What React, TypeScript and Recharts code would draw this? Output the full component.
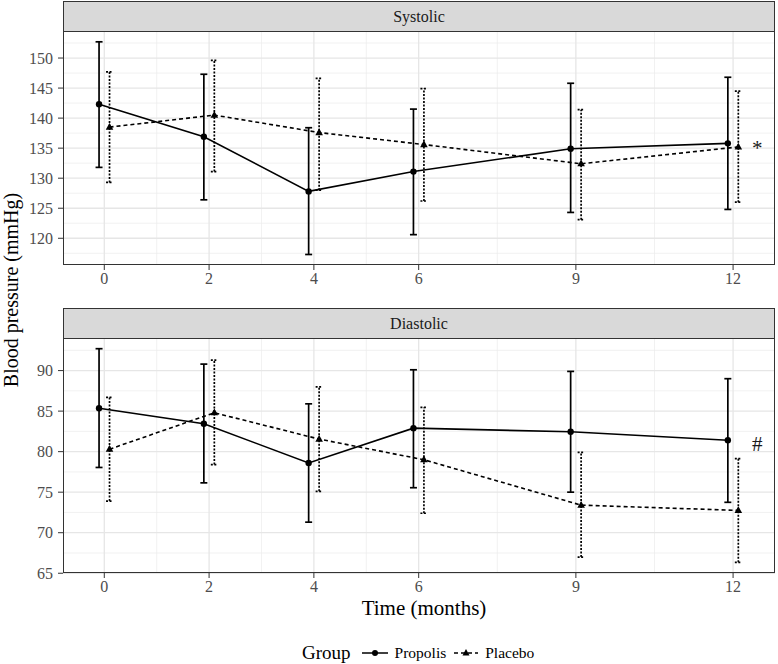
import {
  ComposedChart,
  Scatter,
  ErrorBar,
  XAxis,
  YAxis,
  CartesianGrid,
  ReferenceDot,
} from "recharts";

// months of follow-up
const MONTHS = [0, 2, 4, 6, 9, 12];
const X_TICKS = [0, 2, 4, 6, 9, 12];
const X_MINOR = [1, 3, 5, 7.5, 10.5];

// Systolic (mmHg): mean, lower and upper bounds of the bars
const SYS_PROPOLIS = [142.3, 136.9, 127.8, 131.1, 134.9, 135.8];
const SYS_PROPOLIS_LO = [131.8, 126.4, 117.3, 120.6, 124.3, 124.8];
const SYS_PROPOLIS_HI = [152.7, 147.3, 138.4, 141.5, 145.8, 146.8];
const SYS_PLACEBO = [138.5, 140.5, 137.6, 135.6, 132.4, 135.2];
const SYS_PLACEBO_LO = [129.3, 131.1, 128.0, 126.2, 123.1, 126.0];
const SYS_PLACEBO_HI = [147.7, 149.6, 146.6, 144.9, 141.4, 144.5];

// Diastolic (mmHg)
const DIA_PROPOLIS = [85.35, 83.45, 78.6, 82.9, 82.45, 81.4];
const DIA_PROPOLIS_LO = [78.05, 76.15, 71.3, 75.55, 75.0, 73.75];
const DIA_PROPOLIS_HI = [92.7, 90.8, 85.9, 90.1, 89.9, 89.0];
const DIA_PLACEBO = [80.3, 84.8, 81.55, 79.0, 73.4, 72.75];
const DIA_PLACEBO_LO = [73.9, 78.4, 75.1, 72.4, 67.0, 66.35];
const DIA_PLACEBO_HI = [86.7, 91.3, 88.0, 85.45, 79.9, 79.15];

const SYS_TICKS = [120, 125, 130, 135, 140, 145, 150];
const SYS_MINOR = [117.5, 122.5, 127.5, 132.5, 137.5, 142.5, 147.5, 152.5];
const DIA_TICKS = [65, 70, 75, 80, 85, 90];
const DIA_MINOR = [67.5, 72.5, 77.5, 82.5, 87.5, 92.5];

const SYS_NOTE = { x: 12.46, y: 135.1, text: "*" };
const DIA_NOTE = { x: 12.46, y: 81.0, text: "#" };

const DODGE = 0.1;
const X_DOMAIN: [number, number] = [-0.788, 12.8];

const SERIF = "'Liberation Serif', 'Times New Roman', serif";

const toPoints = (mean: number[], lo: number[], hi: number[], shift: number) =>
  MONTHS.map((m, i) => ({
    x: m + shift,
    y: mean[i],
    err: [mean[i] - lo[i], hi[i] - mean[i]],
  }));

const Dot = (p: any) => <circle cx={p.cx} cy={p.cy} r={3.2} fill="#000" />;
const Tri = (p: any) => (
  <polygon
    points={`${p.cx},${p.cy - 4.2} ${p.cx - 3.8},${p.cy + 2.6} ${p.cx + 3.8},${p.cy + 2.6}`}
    fill="#000"
  />
);

interface PanelProps {
  top: number;
  title: string;
  domain: [number, number];
  ticks: number[];
  minor: number[];
  propolis: { x: number; y: number; err: number[] }[];
  placebo: { x: number; y: number; err: number[] }[];
  note: { x: number; y: number; text: string };
  plotHeight: number;
}

const Panel = ({ top, title, domain, ticks, minor, propolis, placebo, note, plotHeight }: PanelProps) => {
  const tickStyle = { fill: "#4d4d4d", fontSize: 16, fontFamily: SERIF };
  return (
    <>
      <div
        style={{
          position: "absolute",
          left: 63,
          top: top - 30,
          width: 712,
          height: 31,
          boxSizing: "border-box",
          background: "#d9d9d9",
          border: "1px solid #333",
          fontFamily: SERIF,
          fontSize: 16,
          color: "#1a1a1a",
          display: "flex",
          alignItems: "center",
          justifyContent: "center",
        }}
      >
        {title}
      </div>
      <div style={{ position: "absolute", left: 0, top }}>
        <ComposedChart
          width={778}
          height={plotHeight + 32}
          margin={{ top: 0, right: 3, bottom: 0, left: 0 }}
        >
          <CartesianGrid
            horizontalValues={minor}
            verticalValues={X_MINOR}
            stroke="#ebebeb"
            strokeWidth={0.7}
          />
          <CartesianGrid
            horizontalValues={ticks}
            verticalValues={X_TICKS}
            stroke="#e6e6e6"
            strokeWidth={1.3}
          />
          <XAxis
            type="number"
            dataKey="x"
            domain={X_DOMAIN}
            ticks={X_TICKS}
            allowDataOverflow
            height={32}
            axisLine={false}
            tickSize={5}
            tickMargin={3}
            tickLine={{ stroke: "#333" }}
            tick={tickStyle}
            interval={0}
          />
          <YAxis
            type="number"
            dataKey="y"
            domain={domain}
            ticks={ticks}
            allowDataOverflow
            width={63}
            axisLine={false}
            tickSize={5}
            tickMargin={5}
            tickLine={{ stroke: "#333" }}
            tick={tickStyle}
            interval={0}
          />
          <Scatter
            data={placebo}
            isAnimationActive={false}
            line={{ stroke: "#000", strokeWidth: 1.6, strokeDasharray: "4 3" }}
            lineType="joint"
            shape={Tri}
          >
            <ErrorBar
              dataKey="err"
              direction="y"
              width={3.5}
              stroke="#000"
              strokeWidth={1.7}
              strokeDasharray="2 1.5"
              isAnimationActive={false}
            />
          </Scatter>
          <Scatter
            data={propolis}
            isAnimationActive={false}
            line={{ stroke: "#000", strokeWidth: 1.6 }}
            lineType="joint"
            shape={Dot}
          >
            <ErrorBar
              dataKey="err"
              direction="y"
              width={3.5}
              stroke="#000"
              strokeWidth={1.7}
              isAnimationActive={false}
            />
          </Scatter>
          <ReferenceDot
            x={note.x}
            y={note.y}
            r={0}
            stroke="none"
            label={{
              value: note.text,
              position: "center",
              fontSize: 21,
              fontFamily: SERIF,
              fill: "#1a1a1a",
            }}
          />
        </ComposedChart>
      </div>
      <div
        style={{
          position: "absolute",
          left: 63,
          top,
          width: 712,
          height: plotHeight,
          boxSizing: "border-box",
          border: "1px solid #333",
          pointerEvents: "none",
        }}
      />
    </>
  );
};

export default function App() {
  return (
    <div
      style={{
        position: "absolute",
        left: 0,
        top: 0,
        width: 778,
        height: 664,
        background: "#fff",
        fontFamily: SERIF,
      }}
    >
      <Panel
        top={31}
        title="Systolic"
        domain={[115.55, 154.5]}
        ticks={SYS_TICKS}
        minor={SYS_MINOR}
        propolis={toPoints(SYS_PROPOLIS, SYS_PROPOLIS_LO, SYS_PROPOLIS_HI, -DODGE)}
        placebo={toPoints(SYS_PLACEBO, SYS_PLACEBO_LO, SYS_PLACEBO_HI, DODGE)}
        note={SYS_NOTE}
        plotHeight={234}
      />
      <Panel
        top={338}
        title="Diastolic"
        domain={[65.03, 94.02]}
        ticks={DIA_TICKS}
        minor={DIA_MINOR}
        propolis={toPoints(DIA_PROPOLIS, DIA_PROPOLIS_LO, DIA_PROPOLIS_HI, -DODGE)}
        placebo={toPoints(DIA_PLACEBO, DIA_PLACEBO_LO, DIA_PLACEBO_HI, DODGE)}
        note={DIA_NOTE}
        plotHeight={235}
      />
      {/* y-axis title */}
      <div
        style={{
          position: "absolute",
          left: 11,
          top: 290,
          transform: "translate(-50%, -50%) rotate(-90deg)",
          whiteSpace: "nowrap",
          fontSize: 20,
          color: "#000",
        }}
      >
        Blood pressure (mmHg)
      </div>
      {/* x-axis title */}
      <div
        style={{
          position: "absolute",
          left: 424,
          top: 608,
          transform: "translate(-50%, -50%)",
          whiteSpace: "nowrap",
          fontSize: 21,
          color: "#000",
        }}
      >
        Time (months)
      </div>
      {/* legend */}
      <div
        style={{
          position: "absolute",
          left: 302,
          top: 653,
          transform: "translateY(-50%)",
          display: "flex",
          alignItems: "center",
          whiteSpace: "nowrap",
          color: "#000",
        }}
      >
        <span style={{ fontSize: 19, marginRight: 10 }}>Group</span>
        <svg width={28} height={12} style={{ marginRight: 6 }}>
          <line x1={1} y1={6} x2={27} y2={6} stroke="#000" strokeWidth={1.5} />
          <circle cx={14} cy={6} r={3} fill="#000" />
        </svg>
        <span style={{ fontSize: 15.5, marginRight: 7 }}>Propolis</span>
        <svg width={26} height={12} style={{ marginRight: 6 }}>
          <line x1={1} y1={6} x2={25} y2={6} stroke="#000" strokeWidth={1.5} strokeDasharray="4 3" />
          <polygon points="13,2 9.5,8.5 16.5,8.5" fill="#000" />
        </svg>
        <span style={{ fontSize: 15.5 }}>Placebo</span>
      </div>
    </div>
  );
}
